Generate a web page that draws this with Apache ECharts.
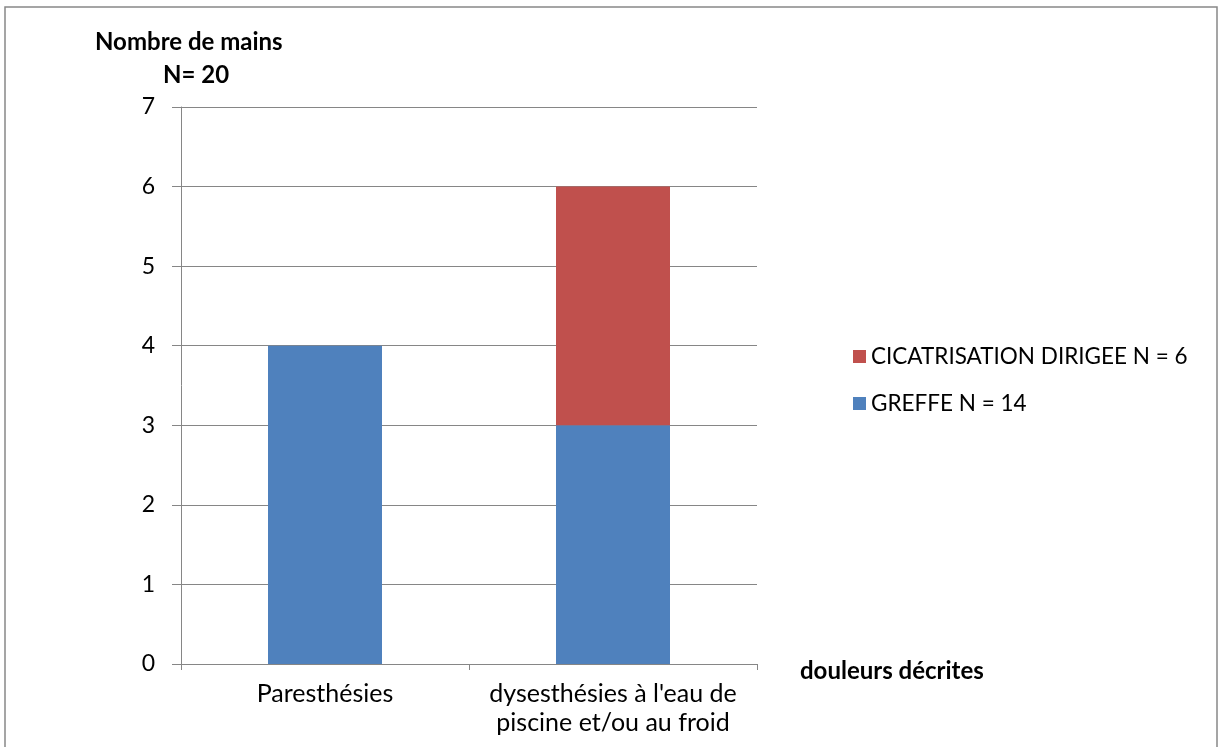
<!DOCTYPE html>
<html>
<head>
<meta charset="utf-8">
<script src="https://cdn.jsdelivr.net/npm/echarts@6/dist/echarts.min.js"></script>
<style>html,body{margin:0;padding:0;background:#fff}#c{width:1221px;height:747px}</style>
</head>
<body>
<div id="c"></div>
<script>
const categories = ["Paresthésies", "dysesthésies à l'eau de\npiscine et/ou au froid"];
const greffe = [4, 3];
const cicatrisation = [null, 3];
const seriesNames = ["GREFFE N = 14", "CICATRISATION DIRIGEE N = 6"];
const yTicks = { min: 0, max: 7, interval: 1 };

const font = "Lato, 'Noto Sans', sans-serif";
const chart = echarts.init(document.getElementById('c'));
chart.setOption({
  animation: false,
  backgroundColor: '#fff',
  textStyle: { fontFamily: font },
  grid: { left: 181, right: 464, top: 107, bottom: 83 },
  legend: {
    orient: 'vertical', left: 848, top: 340,
    itemWidth: 13, itemHeight: 13, itemGap: 24,
    icon: 'rect',
    data: [seriesNames[1], seriesNames[0]],
    textStyle: { fontSize: 22.5, color: '#000', fontFamily: font }
  },
  xAxis: {
    type: 'category', data: categories,
    axisLine: { lineStyle: { color: '#868686', width: 1 } },
    axisTick: { show: true, length: 6, lineStyle: { color: '#868686' } },
    axisLabel: { color: '#000', fontSize: 25, margin: 15, lineHeight: 29, fontFamily: font, interval: 0 }
  },
  yAxis: {
    type: 'value', min: yTicks.min, max: yTicks.max, interval: yTicks.interval,
    axisLine: { show: true, lineStyle: { color: '#868686', width: 1 } },
    axisTick: { show: true, length: 9, lineStyle: { color: '#868686' } },
    splitLine: { show: true, lineStyle: { color: '#868686', width: 1 } },
    axisLabel: { color: '#000', fontSize: 23, margin: 26, fontFamily: font }
  },
  series: [
    { name: seriesNames[0], type: 'bar', stack: 's', data: greffe, barWidth: 114, itemStyle: { color: '#4F81BD' } },
    { name: seriesNames[1], type: 'bar', stack: 's', data: cicatrisation, barWidth: 114, itemStyle: { color: '#C0504D' } }
  ],
  graphic: [
    { type: 'rect', shape: { x: 5, y: 7, width: 1212, height: 800 }, style: { fill: 'none', stroke: '#888', lineWidth: 1.5 }, silent: true },
    { type: 'text', left: 95, top: 30, style: { text: 'Nombre de mains', font: 'bold 24px ' + font, fill: '#000' } },
    { type: 'text', left: 163, top: 63, style: { text: 'N= 20', font: 'bold 24px ' + font, fill: '#000' } },
    { type: 'text', left: 800, top: 659, style: { text: 'douleurs décrites', font: 'bold 24px ' + font, fill: '#000' } }
  ]
});
</script>
</body>
</html>
